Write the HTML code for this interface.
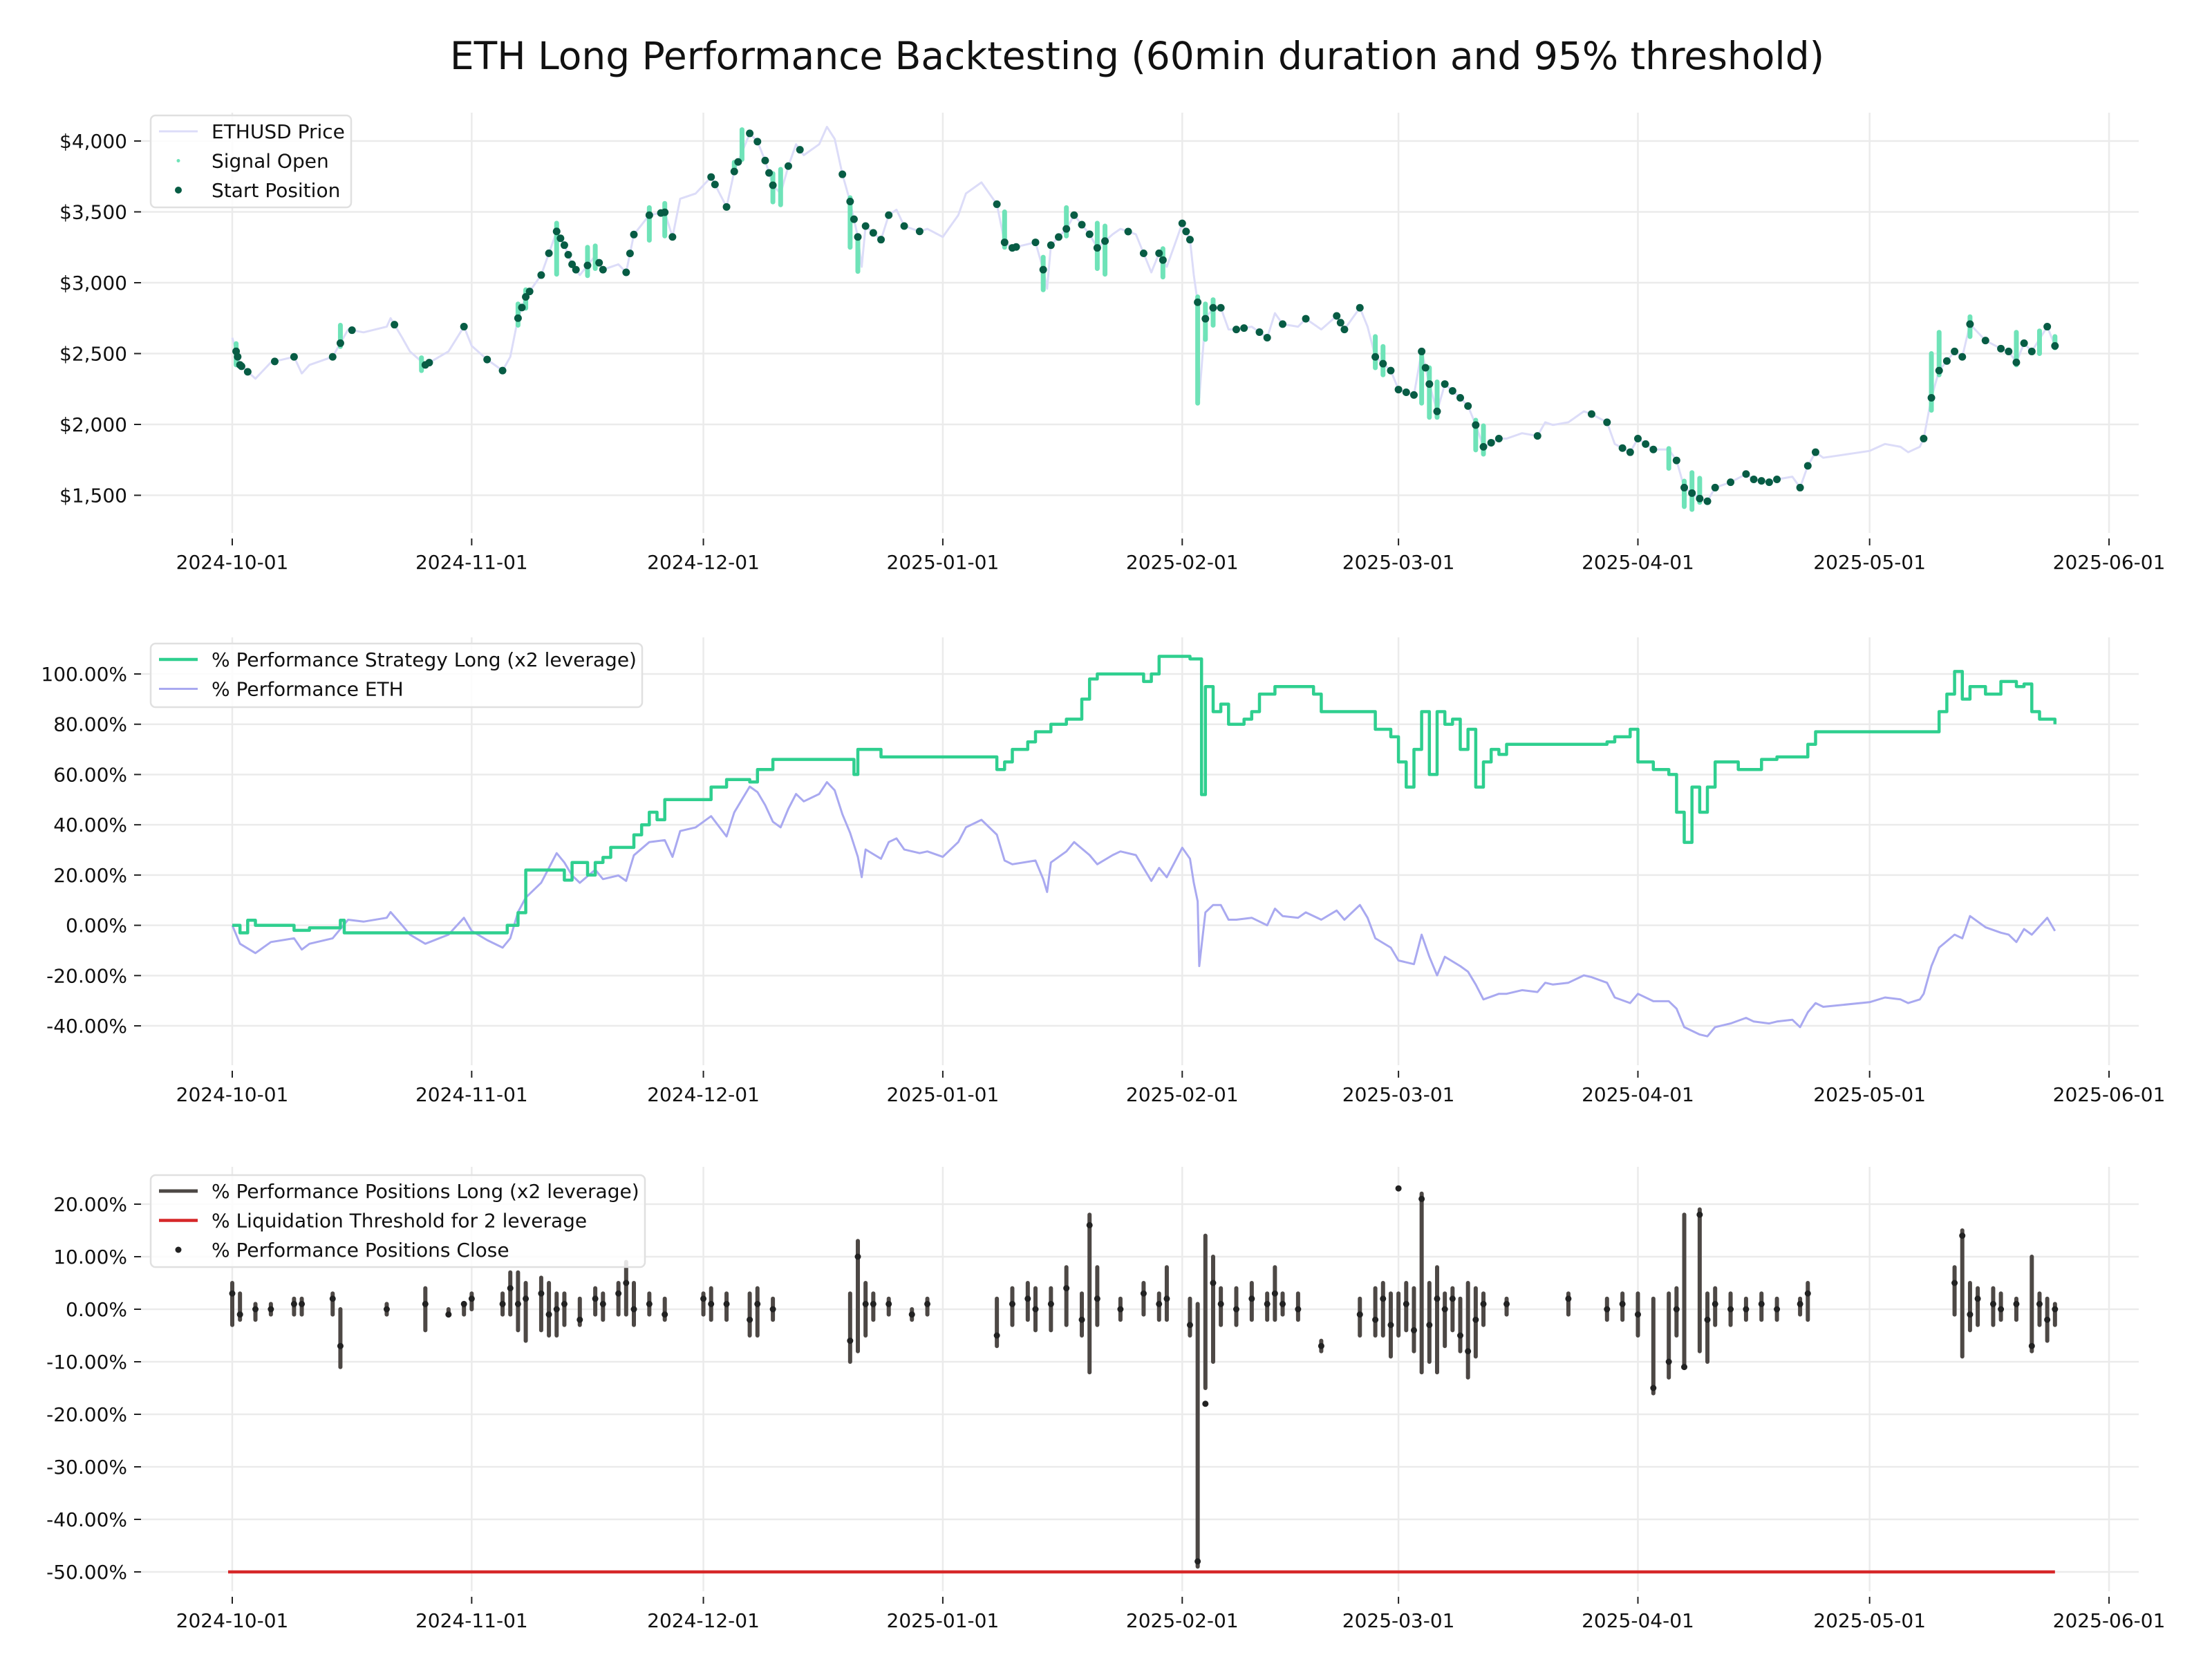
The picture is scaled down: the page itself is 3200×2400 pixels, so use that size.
<!DOCTYPE html>
<html><head><meta charset="utf-8"><style>
html,body{margin:0;padding:0;background:#fff;}
svg{display:block;font-family:"DejaVu Sans","Liberation Sans",sans-serif;}
</style></head><body>
<svg id="chart" width="3200" height="2400" viewBox="0 0 3200 2400" xmlns="http://www.w3.org/2000/svg">
<text x="1645" y="100" text-anchor="middle" font-size="55" fill="#111">ETH Long Performance Backtesting (60min duration and 95% threshold)</text>
</svg>
<script>
// ---- shared x axis data ----
const monthDays = [0,31,61,92,123,151,182,212,243];
const monthLabels = ["2024-10-01","2024-11-01","2024-12-01","2025-01-01","2025-02-01","2025-03-01","2025-04-01","2025-05-01","2025-06-01"];
// ---- panel 1: price ----
const priceDays = [0,1,3,5,8,9,10,13,15,17,20,20.5,22,23,25,28,30,31,33,35,36,37,38,40,41,42,43,44,45,47,48,50,51,52,54,56,57,58,60,62,64,65,66,67,68,69,70,71,72,73,74,76,77,78,79,80,81,81.5,82,84,85,86,87,89,90,92,94,95,97,99,100,101,104,105,105.5,106,108,109,111,112,114,115,117,119,120,121,122,123,124,124.5,125,125.2,126,127,128,129,130,132,134,135,136,138,139,141,143,144,146,147,148,150,151,153,154,155,156,157,159,160,161,162,164,165,167,169,170,171,173,175,176,178,179,181,182,184,186,187,188,190,191,192,194,196,197,199,200,202,203,204,205,206,212,214,216,217,218.5,219,220,221,223,224,225,227,229,230,231,232,233,235,236];
const priceVals = [2612,2420,2323,2438,2477,2360,2420,2477,2670,2650,2690,2750,2612,2515,2420,2515,2690,2554,2458,2380,2477,2750,2900,3054,3208,3362,3265,3130,3054,3190,3092,3130,3073,3340,3477,3497,3323,3592,3630,3746,3535,3785,3920,4054,3996,3862,3688,3630,3823,3977,3900,3977,4100,4015,3765,3573,3323,3112,3400,3304,3477,3515,3400,3362,3380,3323,3477,3630,3708,3554,3285,3246,3285,3092,2958,3265,3380,3477,3342,3246,3342,3380,3342,3073,3208,3112,3265,3419,3304,3054,2862,2188,2746,2823,2823,2670,2670,2690,2612,2785,2708,2690,2746,2670,2766,2670,2823,2690,2477,2380,2246,2208,2515,2285,2092,2285,2188,2130,1996,1842,1900,1900,1938,1919,2015,1996,2015,2092,2073,2015,1862,1804,1900,1823,1823,1746,1554,1477,1458,1554,1592,1650,1612,1592,1612,1631,1554,1708,1804,1765,1813,1862,1842,1804,1842,1900,2188,2380,2515,2477,2708,2592,2535,2515,2438,2573,2515,2690,2554];
const startDays = [0.5,0.7,1,1.2,2,5.5,8,13,14,15.5,21,25,25.5,30,33,35,37,37.5,38,38.5,40,41,42,42.5,43,43.5,44,44.5,46,47.5,48,51,51.5,52,54,55.5,56,57,62,62.5,64,65,65.5,67,68,69,69.5,70,72,73.5,79,80,80.5,81,82,83,84,85,87,89,99,100,101,101.5,104,105,106,107,108,109,110,111,112,113,116,118,120,120.5,123,123.5,124,125,126,127,128,130,131,133,134,136,139,143,143.5,144,146,148,149,150,151,152,153,154,154.5,155,156,157,158,159,160,161,162,163,164,169,176,178,180,181,182,183,184,187,188,189,190,191,192,194,196,197,198,199,200,203,204,205,219,220,221,222,223,224,225,227,229,230,231,232,233,235,236];
const signalDays = [0.5,14,24.5,37,38,42,46,47,54,56,65,66,70,71,80,81,100,105,108,112,113,120.5,125,126,127,148,149,154,155,156,161,162,186,188,189,190,220,221,225,231,234,236];
const signalLo = [2420,2550,2380,2700,2820,3060,3050,3100,3300,3330,3780,3870,3570,3550,3250,3080,3250,2950,3330,3100,3060,3040,2150,2600,2700,2400,2350,2150,2050,2050,1820,1790,1690,1420,1400,1450,2100,2350,2620,2420,2500,2540];
const signalHi = [2570,2700,2470,2850,2950,3420,3250,3260,3530,3560,3850,4080,3770,3800,3600,3320,3500,3180,3530,3420,3400,3240,2900,2850,2880,2620,2550,2520,2400,2300,2030,1990,1830,1600,1660,1620,2500,2650,2760,2650,2660,2620];
// ---- panel 2: performance ----
const stratDays = [0,1,2,3,8,10,14,14.5,16,35,35.6,37,38,42,43,44,46,47,48,49,52,53,54,55,56,61,62,64,67,68,70,80,80.5,81,82,84,98,99,100,101,103,104,106,108,110,111,112,116,118,119,120,124,125,125.5,126,127,128,129,131,132,133,135,140,141,147,148,150,151,152,153,154,155,156,157,158,159,160,161,162,163,164,165,175,178,179,181,182,184,186,187,188,189,190,191,192,195,198,200,203,204,205,220,221,222,223,224,225,227,229,231,232,233,234,236];
const stratVals = [0,-3,2,0,-2,-1,2,-3,-3,-3,0,5,22,22,18,25,20,25,27,31,36,40,45,42,50,50,55,58,57,62,66,66,60,70,70,67,67,62,65,70,73,77,80,82,90,98,100,100,97,100,107,106,106,52,95,85,88,80,82,85,92,95,92,85,85,78,75,65,55,70,85,60,85,80,82,70,78,55,65,70,68,72,72,73,75,78,65,62,60,45,33,55,45,55,65,62,66,67,67,72,77,77,85,92,101,90,95,92,97,95,96,85,82,80];
// ---- panel 3: positions ----
const posDays = [0,1,3,5,8,9,13,14,20,25,28,30,31,35,36,37,38,40,41,42,43,45,47,48,50,51,52,54,56,61,62,64,67,68,70,80,81,82,83,85,88,90,99,101,103,104,106,108,110,111,112,115,118,120,121,124,125,126,127,128,130,132,134,135,136,138,141,146,148,149,150,151,152,153,154,155,156,157,158,159,160,161,162,165,173,178,180,182,184,186,187,188,190,191,192,194,196,198,200,203,204,223,224,225,226,228,229,231,233,234,235,236];
const posLo = [-3,-2,-2,-1,-1,-1,-1,-11,-1,-4,-1,-1,0,-1,-1,-4,-6,-4,-5,-5,-3,-3,-1,-2,-1,-1,-3,-1,-2,-1,-2,-2,-5,-5,-2,-10,-8,-5,-2,-1,-2,-1,-7,-3,-2,-4,-4,-3,-5,-12,-3,-2,-1,-2,-2,-5,-49,-15,-10,-3,-3,-2,-2,-2,-1,-2,-8,-5,-5,-5,-9,-5,-4,-8,-12,-10,-12,-7,-4,-8,-13,-9,-3,-1,-1,-2,-2,-5,-16,-13,-5,-11,-8,-10,-3,-3,-2,-2,-2,-1,-2,-1,-9,-4,-3,-3,-2,-2,-8,-3,-6,-3];
const posHi = [5,3,1,1,2,2,3,0,1,4,0,1,3,3,7,7,5,6,5,3,3,2,4,3,5,9,5,3,2,3,4,3,3,4,2,3,13,5,3,2,0,2,2,4,5,4,4,8,3,18,8,2,5,3,8,2,1,14,10,4,4,5,3,8,3,3,-6,2,4,5,3,3,5,4,22,5,8,3,4,2,5,4,3,2,3,2,3,3,2,3,4,18,19,3,4,3,2,3,2,2,5,8,15,5,4,4,3,2,10,3,2,1];
const closeVals = [3,-1,0,0,1,1,2,-7,0,1,-1,1,2,1,4,1,2,3,-1,0,1,-2,2,1,3,5,0,1,-1,2,1,1,-2,1,0,-6,10,1,1,1,-1,1,-5,1,2,0,1,4,-2,16,2,0,3,1,2,-3,-48,-18,5,1,0,2,1,3,1,0,-7,-1,-2,2,-3,23,1,-4,21,-3,2,0,2,-5,-8,-2,1,1,2,0,1,-1,-15,-10,0,-11,18,-2,1,0,0,1,0,1,3,5,14,-1,2,1,0,1,-7,1,-2,0];

const NS = "http://www.w3.org/2000/svg";
const svg = document.getElementById("chart");
function mk(tag, attrs, parent){ const e=document.createElementNS(NS,tag); for(const k in attrs) e.setAttribute(k,attrs[k]); (parent||svg).appendChild(e); return e; }
const X0=336, PXD=11.173, AXL=204, AXR=3094;
function xs(d){ return X0 + d*PXD; }

function interp(days, vals, d){
  if(d<=days[0]) return vals[0];
  for(let i=1;i<days.length;i++){ if(d<=days[i]){ const t=(d-days[i-1])/(days[i]-days[i-1]); return vals[i-1]+t*(vals[i]-vals[i-1]); } }
  return vals[vals.length-1];
}

function axes(name, top, bottom, ticks, fmt, ys){
  const g = mk("g",{});
  
  
  ticks.forEach(v=>{
    const y=ys(v);
    const gl = mk("line",{x1:AXL,x2:AXR,y1:y,y2:y,stroke:"#ebebeb","stroke-width":2.5},g);
    
    
    mk("line",{x1:194,x2:204,y1:y,y2:y,stroke:"#222","stroke-width":2},g);
    const t = mk("text",{x:184,y:y+10,"text-anchor":"end","font-size":28,fill:"#111"},g);
    t.textContent = fmt(v);
    
    
  });
  monthDays.forEach((d,i)=>{
    const x=xs(d);
    const gl = mk("line",{x1:x,x2:x,y1:top,y2:bottom,stroke:"#ebebeb","stroke-width":2.5},g);
    
    
    mk("line",{x1:x,x2:x,y1:bottom+8,y2:bottom+18,stroke:"#222","stroke-width":2},g);
    const t = mk("text",{x:x,y:bottom+52,"text-anchor":"middle","font-size":28,fill:"#111"},g);
    t.textContent = monthLabels[i];
    
    
  });
}
function poly(days, vals, ys, attrs, name){
  const pts = days.map((d,i)=>xs(d).toFixed(1)+","+ys(vals[i]).toFixed(1)).join(" ");
  const p = mk("polyline",Object.assign({points:pts,fill:"none","stroke-linejoin":"round"},attrs));
  
  
  return p;
}
function legend(name, x, y, w, h, entries){
  const g = mk("g",{});
  
  
  mk("rect",{x:x,y:y,width:w,height:h,rx:7,fill:"#fff","fill-opacity":0.85,stroke:"#e0e0e0","stroke-width":2.5},g);
  entries.forEach((e,i)=>{
    const cy = y+23+i*42.5;
    if(e.type==="line") mk("line",{x1:x+12,x2:x+68,y1:cy,y2:cy,stroke:e.color,"stroke-width":e.w},g);
    else mk("circle",{cx:x+40,cy:cy,r:e.r,fill:e.color},g);
    const t = mk("text",{x:x+88,y:cy+10,"font-size":28,fill:"#111"},g);
    t.textContent = e.label;
    
    
  });
}

// ---- Panel 1 ----
const y1 = v => 204 + (4000-v)*0.205;
axes("price", 163, 771, [1500,2000,2500,3000,3500,4000], v=>"$"+v.toLocaleString("en-US"), y1);
poly(priceDays, priceVals, y1, {stroke:"#dcdcf8","stroke-width":3}, "ethusd-price-line");
signalDays.forEach((d,i)=>{
  const l = mk("line",{x1:xs(d),x2:xs(d),y1:y1(signalLo[i]),y2:y1(signalHi[i]),stroke:"#6fe3b8","stroke-width":7,"stroke-linecap":"round"});
  
  
});
startDays.forEach(d=>{
  const v = interp(priceDays, priceVals, d);
  const c = mk("circle",{cx:xs(d),cy:y1(v),r:5.5,fill:"#075c44"});
  
  
});
legend("price-legend",218,167,290,133,[
  {type:"line",color:"#dcdcf8",w:3,label:"ETHUSD Price"},
  {type:"dot",color:"#6fe3b8",r:2.5,label:"Signal Open"},
  {type:"dot",color:"#075c44",r:5,label:"Start Position"}]);

// ---- Panel 2 ----
const y2 = v => 975 + (100-v)*3.636;
axes("performance", 922, 1541, [-40,-20,0,20,40,60,80,100], v=>v.toFixed(2)+"%", y2);
const ethPct = priceVals.map(v => (v/priceVals[0]-1)*100);
poly(priceDays, ethPct, y2, {stroke:"#a9a9f0","stroke-width":3}, "eth-performance-line");
(function(){
  let pts=[];
  stratDays.forEach((d,i)=>{
    if(i>0) pts.push(xs(d).toFixed(1)+","+y2(stratVals[i-1]).toFixed(1));
    pts.push(xs(d).toFixed(1)+","+y2(stratVals[i]).toFixed(1));
  });
  const p = mk("polyline",{points:pts.join(" "),fill:"none",stroke:"#2fcf8f","stroke-width":4.5,"stroke-linejoin":"round"});
  
  
})();
legend("performance-legend",218,931,711,92,[
  {type:"line",color:"#2fcf8f",w:4.5,label:"% Performance Strategy Long (x2 leverage)"},
  {type:"line",color:"#a9a9f0",w:3,label:"% Performance ETH"}]);

// ---- Panel 3 ----
const y3 = v => 1742 + (20-v)*7.6;
axes("positions", 1688, 2302, [-50,-40,-30,-20,-10,0,10,20], v=>v.toFixed(2)+"%", y3);
posDays.forEach((d,i)=>{
  const l = mk("line",{x1:xs(d),x2:xs(d),y1:y3(posLo[i]),y2:y3(posHi[i]),stroke:"#4d4845","stroke-width":6,"stroke-linecap":"round"});
  
  
  const c = mk("circle",{cx:xs(d),cy:y3(closeVals[i]),r:4.5,fill:"#222"});
  
  
});
const liq = mk("line",{x1:xs(0)-6,x2:xs(236),y1:y3(-50),y2:y3(-50),stroke:"#d62728","stroke-width":4.5});


legend("positions-legend",218,1700,715,133,[
  {type:"line",color:"#4d4845",w:5,label:"% Performance Positions Long (x2 leverage)"},
  {type:"line",color:"#d62728",w:4.5,label:"% Liquidation Threshold for 2 leverage"},
  {type:"dot",color:"#222",r:4.5,label:"% Performance Positions Close"}]);
</script>
</body></html>
